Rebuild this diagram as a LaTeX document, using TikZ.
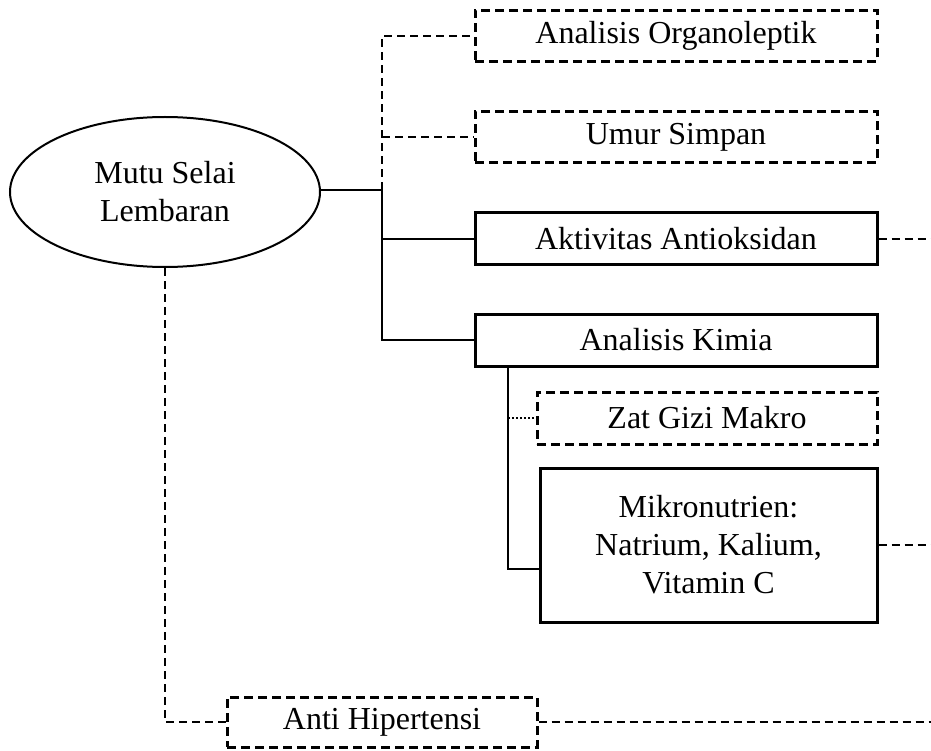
\documentclass[tikz,border=0pt]{standalone}
\usepackage{fontspec}
\setmainfont{Liberation Serif}
\usetikzlibrary{shapes.geometric, calc}

\begin{document}
\begin{tikzpicture}[
      x=1pt, y=-1pt,
      font=\fontsize{32}{38}\selectfont,
      main node/.style={ellipse,draw,line width=2pt,align=center,minimum width=310pt,minimum height=150pt,inner sep=0pt},
      solid box/.style={draw,line width=3pt,align=center,inner sep=0pt},
      dash box/.style={solid box,dash pattern=on 9pt off 5pt},
      solid link/.style={line width=2pt},
      dash link/.style={line width=2pt,dash pattern=on 8pt off 5pt},
      dot link/.style={line width=2pt,dash pattern=on 2pt off 2pt}
      ]
      \useasboundingbox (0,0) rectangle (931,751);
      % nodes
      \node [main node] (mutu) at (165,192) {Mutu Selai\\Lembaran};
      \node [dash box,minimum width=402pt,minimum height=51pt] (organo) at (676,36) {Analisis Organoleptik};
      \node [dash box,minimum width=402pt,minimum height=51pt] (umur) at (676,137) {Umur Simpan};
      \node [solid box,minimum width=402pt,minimum height=52pt] (aktiv) at (676,239) {Aktivitas Antioksidan};
      \node [solid box,minimum width=402pt,minimum height=52pt] (kimia) at (676,340) {Analisis Kimia};
      \node [dash box,minimum width=340pt,minimum height=52pt] (zat) at (707,418) {Zat Gizi Makro};
      \node [solid box,minimum width=337pt,minimum height=154pt] (mikro) at (708.5,545) {Mikronutrien:\\Natrium, Kalium,\\Vitamin C};
      \node [dash box,minimum width=310pt,minimum height=50pt] (anti) at (382,722) {Anti Hipertensi};
      % links
      \coordinate (trunk) at (382,190);
      \coordinate (kbot) at (508,569);
      \coordinate (edge) at (931,0);
      \draw [solid link] (mutu.east |- trunk) -- (trunk);
      \draw [dash link] (trunk) |- (organo.west);
      \draw [dash link] (trunk |- umur.west) -- (umur.west);
      \draw [solid link] (trunk) |- (kimia.west);
      \draw [solid link] (trunk |- aktiv.west) -- (aktiv.west);
      % analisis kimia
      \draw [solid link] (kimia.south -| kbot) -- (kbot) -- (kbot -| mikro.west);
      \draw [dot link] (zat.west -| kbot) -- (zat.west);
      % right side
      \draw [dash link] (aktiv.east) -- (aktiv.east -| edge);
      \draw [dash link] (mikro.east) -- (mikro.east -| edge);
      % anti hipertensi
      \draw [dash link] (mutu.south) |- (anti.west);
      \draw [dash link] (anti.east) -- (anti.east -| edge);
\end{tikzpicture}
\end{document}
